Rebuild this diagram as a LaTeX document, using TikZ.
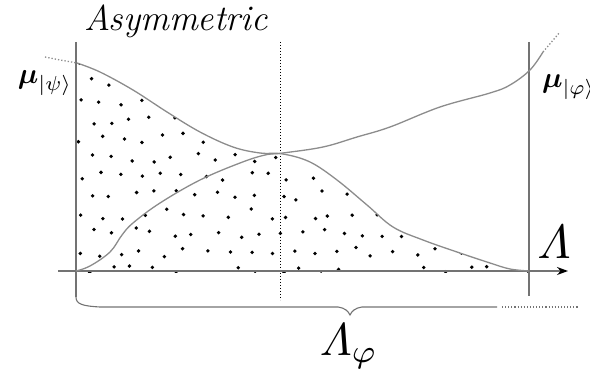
\documentclass[tikz,border=0pt]{standalone}
\usepackage{fontspec}
\usepackage{graphicx}
\usepackage{amsmath}
\usetikzlibrary{arrows.meta}
\newcommand{\itLam}{\mathchar"0103}
\begin{document}
\begin{tikzpicture}[x=1pt,y=-1pt,
  curve/.style={draw=black!45,line width=1.3pt},
  vline/.style={draw=black!55,line width=1.2pt},
  dotmark/.style={fill=black,draw=none},
  lbl/.style={inner sep=0pt,outer sep=0pt}]
\useasboundingbox (0,0) rectangle (590,371);
% texts
\node[lbl,font=\fontsize{36}{40}\selectfont\itshape] (title) at (176,21) {Asymmetric};
\node[lbl] (mupsi) at (45,83) {\scalebox{2.9}{$\boldsymbol{\mu}_{|\psi\rangle}$}};
\node[lbl,anchor=west] (muphi) at (542,87) {\scalebox{2.9}{$\boldsymbol{\mu}_{|\varphi\rangle}$}};
\node[lbl] (lam) at (554,242) {\scalebox{4.8}{$\itLam$}};
\node[lbl] (lamphi) at (349,346) {\scalebox{4.6}{$\itLam_{\varphi}$}};
% coordinates
\coordinate (ltop) at (76,42);
\coordinate (lbot) at (76,297);
\coordinate (rtop) at (529,42);
\coordinate (rbot) at (529,296);
\coordinate (mtop) at (280,42);
\coordinate (mbot) at (280,300);
\coordinate (axs) at (58,271);
\coordinate (axe) at (568,271);
% dots under psi curve
\begin{scope}
\clip plot[smooth,tension=0.6] coordinates {(77,63) (100,72) (133,90) (167,112) (200,132) (233,147) (260,153) (283,154) (310,162) (337,180) (367,205) (393,227) (423,240) (457,252) (490,263) (510,269) (529,271)} -- (529,273) -- (76,273) -- cycle;
\pgfmathsetseed{7}
\foreach \i in {0,...,22} {
  \foreach \j in {0,...,11} {
    \pgfmathsetmacro{\px}{80+\i*21+mod(\j,2)*10.5+rand*5}
    \pgfmathsetmacro{\py}{62+\j*19+rand*5}
    \fill[dotmark] (\px,\py) circle (1.9pt);
  }
}
\end{scope}
% vertical lines
\draw[vline] (ltop) -- (lbot);
\draw[vline] (rtop) -- (rbot);
\draw[dotted,line width=1pt] (mtop) -- (mbot);
% axis
\draw[draw=black!55,line width=1.2pt,-{Stealth[length=11pt,width=8pt,color=black]}] (axs) -- (axe);
% psi curve
\draw[curve,dotted] (45,57) -- (60,60) -- (77,63);
\draw[curve] plot[smooth,tension=0.6] coordinates {(77,63) (100,72) (133,90) (167,112) (200,132) (233,147) (260,153) (283,154) (310,162) (337,180) (367,205) (393,227) (423,240) (457,252) (490,263) (510,269) (529,271)};
% phi curve
\draw[curve] plot[smooth,tension=0.6] coordinates {(76,271) (90,266) (110,252) (122,235) (133,223) (160,203) (200,180) (240,163) (265,155) (283,153) (323,147) (357,137) (390,127) (440,107) (490,93) (510,85) (530,70) (543,52)};
\draw[curve,dotted] (543,52) -- (560,32);
% brace
\draw[draw=black!55,line width=1.1pt] (lbot) .. controls (76,304) and (82,306) .. (100,307) -- (338,307) .. controls (345,308) and (348,311) .. (350,315) .. controls (352,311) and (355,308) .. (362,307) -- (497,307);
\draw[dotted,draw=black!55,line width=1.1pt] (502,307) -- (578,307);
\end{tikzpicture}
\end{document}
